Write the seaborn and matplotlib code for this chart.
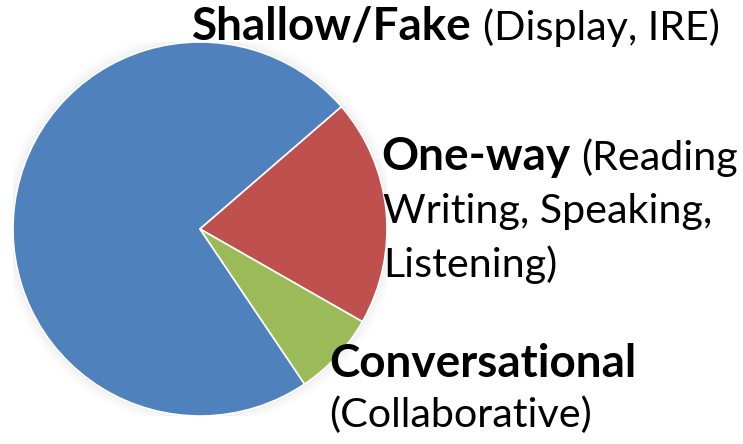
import matplotlib
matplotlib.use("Agg")
import matplotlib.pyplot as plt
import seaborn as sns
from matplotlib.patches import Circle

sns.set_theme(style="white")
plt.rcParams['font.family'] = ['Lato', 'DejaVu Sans']

# Data
categories = ["Shallow/Fake", "One-way", "Conversational"]
shares = [73.1, 19.6, 7.3]
colors = ["#4F81BD", "#C0504D", "#9BBB59"]
bold_labels = ["Shallow/Fake", "One-way", "Conversational"]

W, H = 743, 444
fig = plt.figure(figsize=(W / 100, H / 100), dpi=100)
fig.patch.set_facecolor("white")

cx, cy, r = 200, 229, 187
ax = fig.add_axes([(cx - r) / W, (H - cy - r) / H, 2 * r / W, 2 * r / H])

# soft shadow halo
for k, a in [(1.06, 0.015), (1.045, 0.02), (1.03, 0.03), (1.015, 0.04)]:
    ax.add_patch(Circle((0, 0), k, color="#808080", alpha=a, lw=0, zorder=0))

ax.pie(shares, colors=colors, startangle=304, counterclock=False, radius=1,
       wedgeprops=dict(edgecolor="white", linewidth=1.2), frame=False)
ax.set_xlim(-1, 1)
ax.set_ylim(-1, 1)
ax.set_aspect("auto")
ax.axis("off")

BS = 33     # bold size pt
RS = 29.7   # regular size pt

def px(x, y):
    return x / W, 1 - y / H

renderer = fig.canvas.get_renderer()

def line(x, y, bold, regular=None):
    t = fig.text(*px(x, y), bold, fontsize=BS, fontweight="bold", va="baseline", ha="left", color="black")
    if regular:
        bb = t.get_window_extent(renderer=renderer)
        x2 = bb.x1 + 11
        fig.text(x2 / W, 1 - y / H, regular, fontsize=RS, va="baseline", ha="left", color="black")

def reg(x, y, text):
    fig.text(*px(x, y), text, fontsize=RS, va="baseline", ha="left", color="black")

line(192, 40, bold_labels[0], "(Display, IRE)")
line(381, 170, bold_labels[1], "(Reading")
reg(383, 223, "Writing, Speaking,")
reg(383, 277, "Listening)")
line(329, 377, bold_labels[2])
reg(329, 427, "(Collaborative)")

fig.savefig("out.png", dpi=100, facecolor="white")
